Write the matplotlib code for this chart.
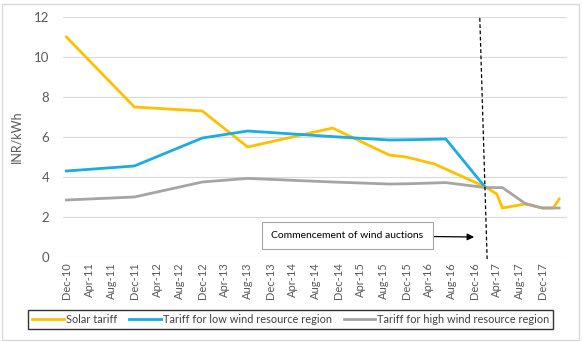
import matplotlib
matplotlib.use("Agg")
import matplotlib.pyplot as plt
from matplotlib.patches import Rectangle

plt.rcParams['font.family'] = ['Lato', 'DejaVu Sans']

# Month axis: Dec-10 ... Apr-18
mon_names = ['Jan', 'Feb', 'Mar', 'Apr', 'May', 'Jun', 'Jul', 'Aug', 'Sep', 'Oct', 'Nov', 'Dec']
months = []
y_, m_ = 2010, 11
for _ in range(89):
    months.append(f"{mon_names[m_]}-{y_ % 100:02d}")
    m_ += 1
    if m_ == 12:
        m_ = 0
        y_ += 1
tick_labels = months[0:85:4]

solar_dates = ['Dec-10', 'Dec-11', 'Dec-12', 'Aug-13', 'Nov-14', 'Sep-15', 'Dec-15', 'May-16',
               'Feb-17', 'Apr-17', 'May-17', 'Sep-17', 'Dec-17', 'Feb-18', 'Mar-18']
solar_vals = [11.0, 7.5, 7.3, 5.5, 6.45, 5.1, 5.0, 4.65, 3.5, 3.15, 2.45, 2.65, 2.45, 2.45, 2.9]

low_dates = ['Dec-10', 'Dec-11', 'Dec-12', 'Aug-13', 'Nov-14', 'Sep-15', 'Dec-15', 'Jul-16', 'Feb-17']
low_vals = [4.3, 4.55, 5.95, 6.3, 6.02, 5.85, 5.86, 5.9, 3.47]

high_dates = ['Dec-10', 'Dec-11', 'Dec-12', 'Aug-13', 'Nov-14', 'Sep-15', 'Dec-15', 'Jul-16',
              'Feb-17', 'May-17', 'Sep-17', 'Dec-17', 'Mar-18']
high_vals = [2.85, 3.0, 3.75, 3.93, 3.75, 3.65, 3.66, 3.72, 3.47, 3.47, 2.68, 2.45, 2.45]

series_names = ['Solar tariff', 'Tariff for low wind resource region', 'Tariff for high wind resource region']
colors = ['#FFC000', '#1AACE3', '#A5A5A5']

fig = plt.figure(figsize=(5.83, 3.42), dpi=100)
ax = fig.add_axes([63/583, 1-257/342, (567-63)/583, (257-17)/342])

idx = {m: i for i, m in enumerate(months)}
handles = []
for dates, vals, c, name in zip([solar_dates, low_dates, high_dates],
                                [solar_vals, low_vals, high_vals], colors, series_names):
    xs = [idx[d] for d in dates]
    h, = ax.plot(xs, vals, color=c, lw=2.0, solid_joinstyle='miter', label=name, zorder=3)
    handles.append(h)
handles[2].set_zorder(4)

ax.set_xlim(-0.6, 88.4)
ax.set_ylim(0, 12)
ax.set_yticks(range(0, 13, 2))
ax.set_xticks(range(0, 85, 4))
ax.set_xticklabels(tick_labels, rotation=90, fontsize=8, color='#595959')
ax.tick_params(axis='y', labelsize=9.5, labelcolor='#595959', length=0, pad=10)
ax.tick_params(axis='x', length=0, pad=4)
ax.grid(axis='y', color='#D9D9D9', lw=0.8)
ax.set_axisbelow(True)
for s in ax.spines.values():
    s.set_visible(False)
ax.set_ylabel('INR/kWh', fontsize=9, color='#595959', labelpad=8)

# dashed vertical marker
ax.plot([73.0, 74.3], [11.95, -0.15], color='black', lw=0.9, ls=(0, (3, 2)), clip_on=False, zorder=5)

# annotation box
ax.annotate('Commencement of wind auctions', xy=(72.0, 1.0), xytext=(36.2, 1.07),
            fontsize=7.5, color='black', va='center', ha='left',
            bbox=dict(boxstyle='square,pad=0.9', fc='white', ec='#A6A6A6', lw=0.8),
            arrowprops=dict(arrowstyle='-|>', color='black', lw=0.9, mutation_scale=10,
                            shrinkA=0, shrinkB=0))

leg = fig.legend(handles=handles, loc='center', bbox_to_anchor=((31.7+550)/2/583, 1-319.5/342),
                 ncol=3, fontsize=7.9, frameon=True, fancybox=False, edgecolor='black',
                 handlelength=2.9, handletextpad=0.15, columnspacing=1.1, borderpad=0.35,
                 borderaxespad=0)
leg.get_frame().set_linewidth(1.0)
for t in leg.get_texts():
    t.set_color('#404040')

fig.patches.append(Rectangle((2/583, 2/342), 577/583, 336/342, transform=fig.transFigure,
                             fill=False, ec='#D9D9D9', lw=1.0))

fig.savefig('out.png', dpi=100)
